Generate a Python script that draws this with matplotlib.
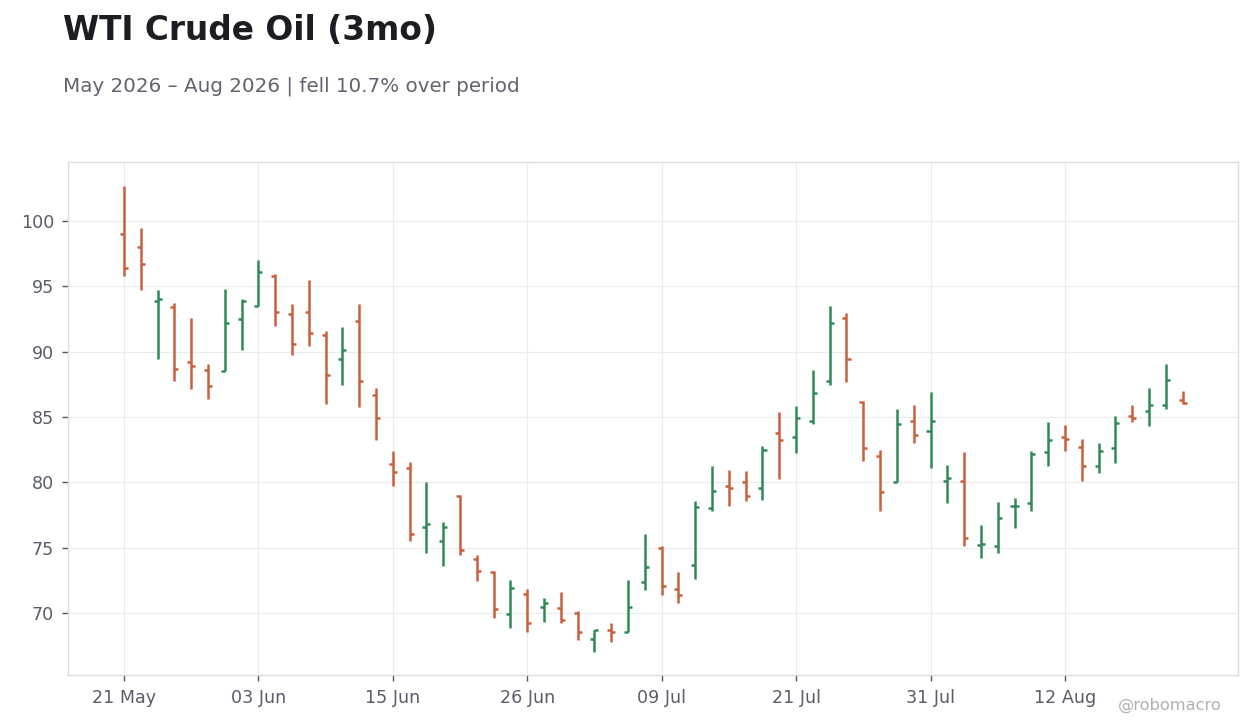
import matplotlib
matplotlib.use("Agg")
import matplotlib.pyplot as plt
import pandas as pd
import numpy as np

# ---- data ----
holidays = ["2026-05-25", "2026-06-19", "2026-07-03"]
dates = pd.bdate_range("2026-05-21", "2026-08-21", freq="C", holidays=holidays)

opens = [99.0, 98.03, 93.9, 93.44, 89.16, 88.62, 88.52, 92.52, 93.5, 95.8,
         92.9, 93.06, 91.3, 89.46, 92.3, 86.71, 81.43, 81.12, 76.6, 75.53,
         78.98, 74.13, 73.14, 69.95, 71.48, 70.48, 70.41, 70.03, 68.03, 68.72,
         68.57, 72.4, 75.0, 71.86, 73.7, 78.06, 79.74, 80.05, 79.59, 83.8,
         83.49, 84.72, 87.78, 92.6, 86.17, 82.04, 80.03, 84.72, 83.95, 80.13,
         80.13, 75.2, 75.15, 78.2, 78.44, 82.35, 83.49, 82.73, 81.27, 82.58,
         85.03, 85.48, 85.87, 86.32]
highs = [102.7, 99.46, 94.72, 93.72, 92.58, 89.08, 94.8, 94.03, 97.01, 95.92,
         93.65, 95.48, 91.58, 91.89, 93.65, 87.22, 82.4, 81.56, 80.03, 76.96,
         79.03, 74.44, 73.19, 72.53, 71.84, 71.15, 71.61, 70.15, 68.72, 69.23,
         72.53, 76.05, 75.1, 73.14, 78.57, 81.25, 80.94, 80.87, 82.78, 85.38,
         85.84, 88.6, 93.49, 92.92, 86.22, 82.47, 85.61, 85.92, 86.91, 81.33,
         82.32, 76.73, 78.49, 78.8, 82.4, 84.62, 84.39, 83.32, 83.01, 85.08,
         85.92, 87.22, 89.05, 86.99]
lows = [95.8, 94.74, 89.46, 87.78, 87.17, 86.4, 88.5, 90.15, 93.49, 91.99,
        89.7, 90.46, 86.02, 87.4, 85.79, 83.26, 79.74, 75.53, 74.61, 73.62,
        74.46, 72.47, 69.64, 68.88, 68.57, 69.34, 69.26, 67.96, 67.04, 67.81,
        68.57, 71.79, 71.4, 70.79, 72.63, 77.83, 78.21, 78.6, 78.67, 80.28,
        82.27, 84.49, 87.4, 87.7, 81.66, 77.83, 79.98, 83.03, 81.12, 78.44,
        75.15, 74.23, 74.61, 76.53, 77.83, 81.27, 82.42, 80.13, 80.74, 81.5,
        84.64, 84.33, 85.64, 86.02]
closes = [96.4, 96.66, 94.0, 88.7, 88.93, 87.37, 92.19, 93.83, 96.05, 93.04,
          90.61, 91.38, 88.21, 90.08, 87.78, 84.95, 80.81, 76.05, 76.83, 76.6,
          74.84, 73.24, 70.33, 71.94, 69.23, 70.79, 69.49, 68.57, 68.72, 68.57,
          70.48, 73.55, 72.09, 71.4, 78.14, 79.36, 79.59, 78.98, 82.5, 83.24,
          84.95, 86.86, 92.22, 89.39, 82.65, 79.28, 84.49, 83.65, 84.72, 80.36,
          75.74, 75.25, 77.29, 78.2, 82.19, 83.26, 83.34, 81.27, 82.42, 84.56,
          84.95, 85.87, 87.85, 86.08]

title = "WTI Crude Oil (3mo)"
subtitle = "May 2026 \u2013 Aug 2026 | fell 10.7% over period"
yticks = [70, 75, 80, 85, 90, 95, 100]

UP = "#2e8b57"
DOWN = "#c9603d"

plt.rcParams["font.family"] = ["DejaVu Sans"]
fig = plt.figure(figsize=(12.6, 7.28), dpi=100)
ax = fig.add_axes([68/1260, 1-675/728, (1238-68)/1260, (675-162)/728])

x = np.arange(len(dates))
o = np.array(opens); h = np.array(highs); l = np.array(lows); c = np.array(closes)
cols = [UP if cc >= oo else DOWN for oo, cc in zip(o, c)]
tw = 0.24
ax.vlines(x, l, h, colors=cols, linewidth=1.8, zorder=3)
ax.hlines(o, x - tw, x, colors=cols, linewidth=1.8, zorder=3)
ax.hlines(c, x, x + tw, colors=cols, linewidth=1.8, zorder=3)

ax.set_xlim(-3.33, len(dates) - 1 + 3.3)
ax.set_ylim(65.25, 104.5)
tick_idx = list(range(0, len(dates), 8))
ax.set_xticks(tick_idx)
ax.set_xticklabels([dates[i].strftime("%d %b") for i in tick_idx])
ax.set_yticks(yticks)
ax.set_yticklabels([str(v) for v in yticks])

ax.grid(True, color="#ececec", linewidth=0.8, zorder=0)
ax.set_axisbelow(True)
for s in ax.spines.values():
    s.set_color("#dcdce2")
    s.set_linewidth(1.0)
ax.tick_params(axis="both", colors="#55555f", labelcolor="#5a5d6a", labelsize=12.6,
               length=4, width=1, pad=6)

fig.text(63/1260, 1-30/728, title, fontsize=23.6, fontweight="bold", color="#1c1c22",
         ha="left", va="center")
fig.text(63/1260, 1-86/728, subtitle, fontsize=14.35, color="#62636f",
         ha="left", va="center")
fig.text(1222/1260, 1-705/728, "@robomacro", fontsize=11.7, color="#b0b0b6",
         ha="right", va="center")

fig.savefig("out.png", dpi=100, facecolor="white")
